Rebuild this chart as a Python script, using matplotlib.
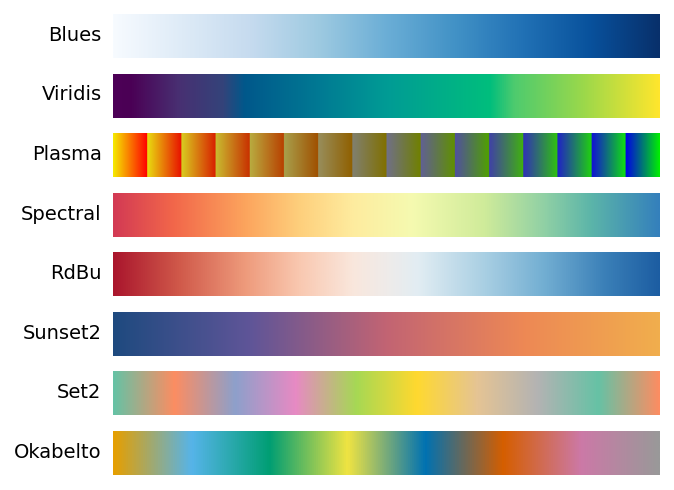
import numpy as np
import matplotlib
matplotlib.use('Agg')
import matplotlib.pyplot as plt
from matplotlib.colors import LinearSegmentedColormap

names = ['Blues', 'Viridis', 'Plasma', 'Spectral', 'RdBu', 'Sunset2', 'Set2', 'Okabelto']

blues = ['#f7fbff', '#deebf7', '#c6dbef', '#9ecae1', '#6baed6', '#4292c6', '#2171b5', '#08519c', '#08306b']

# these ones are not evenly spaced, stops read off the picture
viridis = ['#4d0057', '#4b0055', '#483072', '#34437a', '#00588b', '#007893', '#009b95', '#00be7d', '#4ecb6e',
           '#9ad84b', '#ffe62d']
viridis_stops = [0, 0.03, 0.12, 0.2, 0.24, 0.37, 0.5, 0.69, 0.735, 0.86, 1]

spectral = ['#d33a54', '#f2674a', '#fca45d', '#fecf7c', '#feec9f', '#f5fab0', '#cfeb9a', '#90d0a5', '#5cb5a9',
            '#3480bc']
spectral_stops = [0, 0.11, 0.24, 0.34, 0.44, 0.547, 0.68, 0.79, 0.875, 1]

rdbu = ['#aa162d', '#d0594a', '#ee9a7b', '#f9c8b0', '#f9e7dd', '#efebe9', '#e2edf3', '#a9cfe3', '#72aed2',
        '#3b80b8', '#1c5da2']
rdbu_stops = [0, 0.12, 0.24, 0.34, 0.44, 0.5, 0.557, 0.68, 0.79, 0.9, 1]

sunset2 = ['#1e4a7f', '#5f5598', '#c26473', '#ed8855', '#f1ae4d']
set2 = ['#66c2a5', '#fc8d62', '#8da0cb', '#e78ac3', '#a6d854', '#ffd92f', '#e5c494', '#b3b3b3', '#66c2a5', '#fc8d62']
okabeito = ['#e69f00', '#56b4e9', '#009e73', '#f0e442', '#0072b2', '#d55e00', '#cc79a7', '#999999']

# Plasma bar is made of 16 separate gradients
plasma_left = ['#f5ea00', '#e8dc10', '#d8cc20', '#c8bc30', '#b8ac40', '#a8a04c', '#988e5c', '#808070',
               '#707088', '#606094', '#5050a0', '#4040a8', '#3030b8', '#2020c8', '#1010d8', '#0000e8']
plasma_right = ['#ff0000', '#e81000', '#d82000', '#c83000', '#b84000', '#a05000', '#906000', '#807000',
                '#708000', '#609000', '#50a000', '#40b010', '#30c010', '#20d010', '#10e010', '#00f000']


def even_cmap(colors):
    return LinearSegmentedColormap.from_list('c', colors, N=256)


def stop_cmap(colors, stops):
    return LinearSegmentedColormap.from_list('c', list(zip(stops, colors)), N=256)


def segment_cmap(left, right):
    stops = []
    n = len(left)
    for k in range(n):
        stops.append((k / n, left[k]))
        stops.append(((k + 1) / n - 1e-4, right[k]))
    stops[-1] = (1.0, right[-1])
    return LinearSegmentedColormap.from_list('s', stops, N=1024)


cmaps = [even_cmap(blues), stop_cmap(viridis, viridis_stops), segment_cmap(plasma_left, plasma_right),
         stop_cmap(spectral, spectral_stops), stop_cmap(rdbu, rdbu_stops), even_cmap(sunset2),
         even_cmap(set2), even_cmap(okabeito)]

gradient = np.linspace(0, 1, 1024).reshape(1, -1)

fig, axes = plt.subplots(len(names), 1, figsize=(6.74, 4.9), dpi=100)
fig.subplots_adjust(left=113 / 674, right=660 / 674, top=1 - 14 / 490, bottom=1 - 475 / 490, hspace=15.5 / 44)

for ax, name, cmap in zip(axes, names, cmaps):
    ax.imshow(gradient, aspect='auto', cmap=cmap)
    ax.set_axis_off()
    ax.text(-0.021, 0.515, name, transform=ax.transAxes, ha='right', va='center', fontsize=14, color='black')

fig.savefig('out.png', dpi=100)
